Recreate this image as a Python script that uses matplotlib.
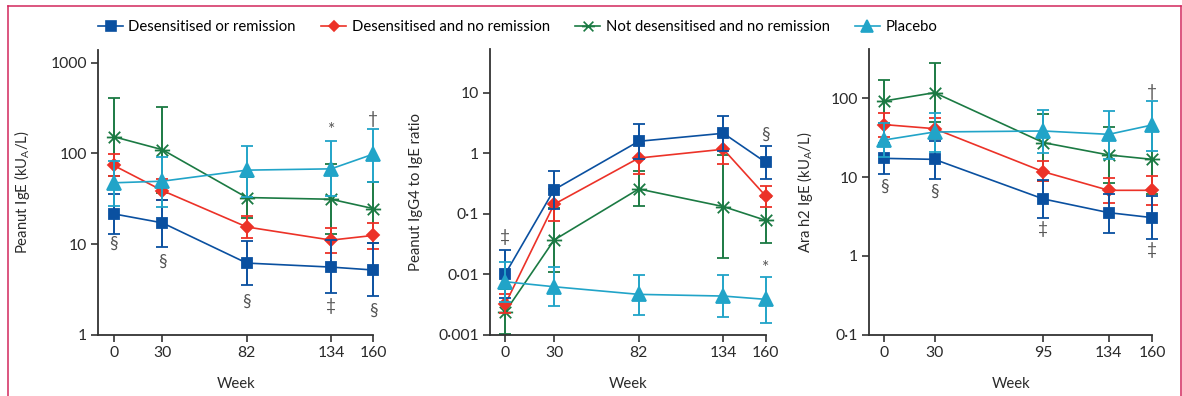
import matplotlib
matplotlib.use("Agg")
import matplotlib.pyplot as plt
from matplotlib.lines import Line2D
from matplotlib.path import Path
import numpy as np

plt.rcParams['font.family'] = ['Lato', 'DejaVu Sans']
plt.rcParams['mathtext.fontset'] = 'custom'
plt.rcParams['mathtext.rm'] = 'Lato'
plt.rcParams['mathtext.it'] = 'Lato:italic'

# ---------------- data ----------------
series_names = ["Desensitised or remission", "Desensitised and no remission",
                "Not desensitised and no remission", "Placebo"]

weeks_ab = [0, 30, 82, 134, 160]
weeks_c = [0, 30, 95, 134, 160]

# Panel A: Peanut IgE
igE_blue = [21.6, 17.2, 6.2, 5.6, 5.2]
igE_blue_lo = [12.9, 9.35, 3.53, 2.9, 2.67]
igE_blue_hi = [35.6, 31, 10.9, 11, 10.2]
igE_red = [73.8, 39, 15.5, 11.1, 12.5]
igE_red_lo = [56, 31, 11.6, 8.0, 8.9]
igE_red_hi = [98.4, 51.7, 20.4, 15, 17]
igE_green = [153, 110, 32.7, 31.3, 24.7]
igE_green_lo = [56, 36.8, 19.5, 12.9, 10.3]
igE_green_hi = [408, 325, 55, 76, 49]
igE_cyan = [47.5, 49.5, 65.5, 67.7, 98.4]
igE_cyan_lo = [26.2, 25.8, 33, 34, 49]
igE_cyan_hi = [83, 92, 120.5, 138, 187]

# Panel B: Peanut IgG4 to IgE ratio
ratio_blue = [0.0101, 0.249, 1.57, 2.13, 0.706]
ratio_blue_lo = [0.0041, 0.12, 0.8, 1.1, 0.379]
ratio_blue_hi = [0.025, 0.514, 3.07, 4.11, 1.31]
ratio_red = [0.00321, 0.143, 0.83, 1.16, 0.196]
ratio_red_lo = [0.00225, 0.075, 0.45, 0.66, 0.131]
ratio_red_hi = [0.0047, 0.26, 1.4, 1.9, 0.287]
ratio_green = [0.0024, 0.0367, 0.256, 0.131, 0.0776]
ratio_green_lo = [0.00103, 0.0109, 0.136, 0.0183, 0.0332]
ratio_green_hi = [0.0056, 0.122, 0.507, 0.93, 0.186]
ratio_cyan = [0.0075, 0.0062, 0.00464, 0.00435, 0.00384]
ratio_cyan_lo = [0.0035, 0.003, 0.00211, 0.00198, 0.00156]
ratio_cyan_hi = [0.0161, 0.0131, 0.0097, 0.0097, 0.00898]

# Panel C: Ara h2 IgE
ara_blue = [17.3, 16.8, 5.28, 3.54, 3.06]
ara_blue_lo = [11, 9.56, 3.06, 1.97, 1.64]
ara_blue_hi = [27, 29, 9.2, 6.1, 5.76]
ara_red = [46.4, 41.2, 11.7, 6.8, 6.8]
ara_red_lo = [32.3, 30.2, 8.85, 4.74, 4.47]
ara_red_hi = [65.8, 56.9, 16.2, 9.85, 10.3]
ara_green = [92.6, 118, 27.4, 19.1, 16.8]
ara_green_lo = [49, 50.6, 9, 8.5, 6.1]
ara_green_hi = [171, 284, 63, 43.7, 38]
ara_cyan = [29.6, 37.4, 38.5, 34.9, 45.9]
ara_cyan_lo = [18, 20.8, 20.4, 17, 21.7]
ara_cyan_hi = [48, 65.8, 71, 69, 92.6]

# annotations (week, value, symbol)
notes_a = [(0, 10, '§'), (30, 6.4, '§'), (82, 2.3, '§'), (134, 2.09, '‡'),
           (160, 1.84, '§'), (134, 181, '*'), (160, 237, '†')]
notes_b = [(0, 0.0417, '‡'), (160, 2.0, '§'), (160, 0.0125, '*')]
notes_c = [(0, 7.57, '§'), (30, 6.5, '§'), (95, 2.22, '‡'), (160, 1.19, '‡'),
           (160, 121, '†')]

yticks_a = [1, 10, 100, 1000]
yticklabels_a = ["1", "10", "100", "1000"]
yticks_b = [0.001, 0.01, 0.1, 1, 10]
yticklabels_b = ["0·001", "0·01", "0·1", "1", "10"]
yticks_c = [0.1, 1, 10, 100]
yticklabels_c = ["0·1", "1", "10", "100"]

# ---------------- style ----------------
C_BLUE = '#0a50a0'
C_RED = '#ec3228'
C_GREEN = '#1b7a43'
C_CYAN = '#21a4c8'
AX_COL = '#333333'
NOTE_COL = '#555555'

star_path = Path([(-1, 0), (1, 0), (-0.75, -0.75), (0.75, 0.75), (-0.75, 0.75), (0.75, -0.75)],
                 [Path.MOVETO, Path.LINETO, Path.MOVETO, Path.LINETO, Path.MOVETO, Path.LINETO])

styles = [
    dict(color=C_BLUE, marker='s', ms=7.8, mec=C_BLUE, mfc=C_BLUE, z=4),
    dict(color=C_RED, marker='D', ms=6, mec=C_RED, mfc=C_RED, z=3),
    dict(color=C_GREEN, marker=star_path, ms=11, mec=C_GREEN, mfc='none', z=2),
    dict(color=C_CYAN, marker='^', ms=10, mec=C_CYAN, mfc=C_CYAN, z=5),
]

W, H = 1182, 396
fig = plt.figure(figsize=(W / 100, H / 100), dpi=100)

def ax_rect(l, r, t, b):
    return [l / W, 1 - b / H, (r - l) / W, (b - t) / H]

ax1 = fig.add_axes(ax_rect(98, 373.3, 50, 335))
ax2 = fig.add_axes(ax_rect(490.3, 765.7, 49.3, 334.7))
ax3 = fig.add_axes(ax_rect(869, 1152.3, 49.3, 334.7))

panels = [
    (ax1, weeks_ab,
     [(igE_blue, igE_blue_lo, igE_blue_hi), (igE_red, igE_red_lo, igE_red_hi),
      (igE_green, igE_green_lo, igE_green_hi), (igE_cyan, igE_cyan_lo, igE_cyan_hi)],
     (-9.7, 160), (1, 1380), yticks_a, yticklabels_a,
     "Peanut IgE (kU$_{\\mathrm{A}}$/L)", -0.240, notes_a),
    (ax2, weeks_ab,
     [(ratio_blue, ratio_blue_lo, ratio_blue_hi), (ratio_red, ratio_red_lo, ratio_red_hi),
      (ratio_green, ratio_green_lo, ratio_green_hi), (ratio_cyan, ratio_cyan_lo, ratio_cyan_hi)],
     (-9.2, 160), (0.001, 52), yticks_b, yticklabels_b,
     "Peanut IgG4 to IgE ratio", -0.244, notes_b),
    (ax3, weeks_c,
     [(ara_blue, ara_blue_lo, ara_blue_hi), (ara_red, ara_red_lo, ara_red_hi),
      (ara_green, ara_green_lo, ara_green_hi), (ara_cyan, ara_cyan_lo, ara_cyan_hi)],
     (-9.1, 160), (0.1, 419), yticks_c, yticklabels_c,
     "Ara h2 IgE (kU$_{\\mathrm{A}}$/L)", -0.19, notes_c),
]

FS = 10.7
TFS = 11.3
for ax, weeks, data, xl, yl, yt, ytl, ylab, ylx, notes in panels:
    ax.set_yscale('log')
    for (m, lo, hi), st in zip(data, styles):
        m = np.array(m); lo = np.array(lo); hi = np.array(hi)
        err = [m - lo, hi - m]
        eb = ax.errorbar(weeks, m, yerr=err, color=st['color'], lw=1.2,
                         elinewidth=1.4, capsize=4, capthick=2.2,
                         marker=st['marker'], ms=st['ms'], mec=st['mec'], mfc=st['mfc'],
                         mew=1.3, zorder=st['z'])
        for c in eb.get_children():
            try:
                c.set_clip_on(False)
            except Exception:
                pass
    for x, y, s in notes:
        ax.text(x, y, s, ha='center', va='center', fontsize=12.5, color=NOTE_COL,
                family=['Lato', 'DejaVu Sans'], zorder=6)
    ax.set_xlim(*xl)
    ax.set_ylim(*yl)
    ax.set_xticks(weeks)
    ax.set_xticklabels([str(w) for w in weeks])
    ax.set_yticks(yt)
    ax.set_yticklabels(ytl)
    ax.yaxis.set_minor_locator(matplotlib.ticker.NullLocator())
    ax.tick_params(axis='both', which='major', length=5, width=1.2, color=AX_COL,
                   labelsize=TFS, labelcolor='#2a2a2a', pad=3)
    for s in ['top', 'right']:
        ax.spines[s].set_visible(False)
    for s in ['left', 'bottom']:
        ax.spines[s].set_color(AX_COL)
        ax.spines[s].set_linewidth(1.3)
    ax.set_facecolor('none')
    ax.set_ylabel(ylab, fontsize=FS, color='#2a2a2a')
    ax.yaxis.set_label_coords(ylx, 0.5)
    ax.set_xlabel("Week", fontsize=FS, color='#2a2a2a')
    ax.xaxis.set_label_coords(0.5, -0.147)

# legend
handles = []
for name, st in zip(series_names, styles):
    handles.append(Line2D([], [], color=st['color'], lw=1.2, marker=st['marker'],
                          ms=st['ms'] * 0.85, mec=st['mec'], mfc=st['mfc'], mew=1.2))
fig.legend(handles, series_names, loc='center left', bbox_to_anchor=(98 / W, 1 - 27 / H),
           ncol=4, frameon=False, fontsize=FS, handlelength=1.7, handletextpad=0.35,
           columnspacing=1.7, borderpad=0, borderaxespad=0)

# figure border
BC = '#d2275c'
fig.add_artist(Line2D([8 / W, 1181 / W], [1 - 6 / H, 1 - 6 / H], color=BC, lw=1.1))
fig.add_artist(Line2D([8 / W, 8 / W], [0, 1 - 6 / H], color=BC, lw=1.1))
fig.add_artist(Line2D([1181 / W, 1181 / W], [0, 1 - 6 / H], color=BC, lw=1.1))

fig.savefig("out.png", dpi=100)
